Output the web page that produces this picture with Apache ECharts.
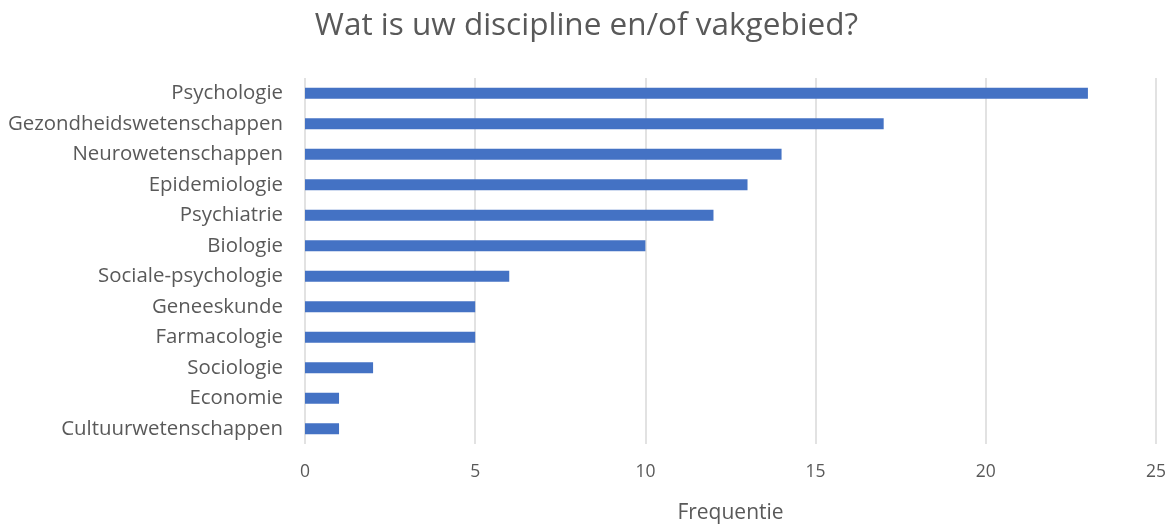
<!DOCTYPE html>
<html><head><meta charset="utf-8">
<script src="https://cdn.jsdelivr.net/npm/echarts@6/dist/echarts.min.js"></script>
<style>html,body{margin:0;padding:0;background:#fff}#c{width:1173px;height:524px}</style>
</head><body><div id="c"></div>
<script>
const categories = ["Psychologie","Gezondheidswetenschappen","Neurowetenschappen","Epidemiologie","Psychiatrie","Biologie","Sociale-psychologie","Geneeskunde","Farmacologie","Sociologie","Economie","Cultuurwetenschappen"];
const values = [23,17,14,13,12,10,6,5,5,2,1,1];
const xTicks = [0,5,10,15,20,25];
const font = "'Open Sans', 'DejaVu Sans', sans-serif";
const chart = echarts.init(document.getElementById('c'));
chart.setOption({
  animation:false,
  title:{text:"Wat is uw discipline en/of vakgebied?",left:'center',top:5,
    textStyle:{fontFamily:font,fontSize:31.5,fontWeight:'normal',color:'#595959'}},
  grid:{left:305,right:17,top:78,bottom:80,containLabel:false,outerBoundsMode:'none'},
  xAxis:{type:'value',min:xTicks[0],max:xTicks[xTicks.length-1],interval:5,
    name:'Frequentie',nameLocation:'middle',nameGap:59,
    nameTextStyle:{fontFamily:font,fontSize:21,color:'#595959'},
    axisLine:{show:false},axisTick:{show:false},
    axisLabel:{fontFamily:font,fontSize:17.5,color:'#595959',margin:19},
    splitLine:{lineStyle:{color:'#d9d9d9',width:1.5}}},
  yAxis:{type:'category',data:categories,inverse:true,
    axisLine:{show:false},axisTick:{show:false},
    axisLabel:{fontFamily:font,fontSize:20.4,color:'#595959',margin:22}},
  series:[{type:'bar',data:values,barWidth:11,itemStyle:{color:'#4472C4'}}]
});
</script></body></html>
